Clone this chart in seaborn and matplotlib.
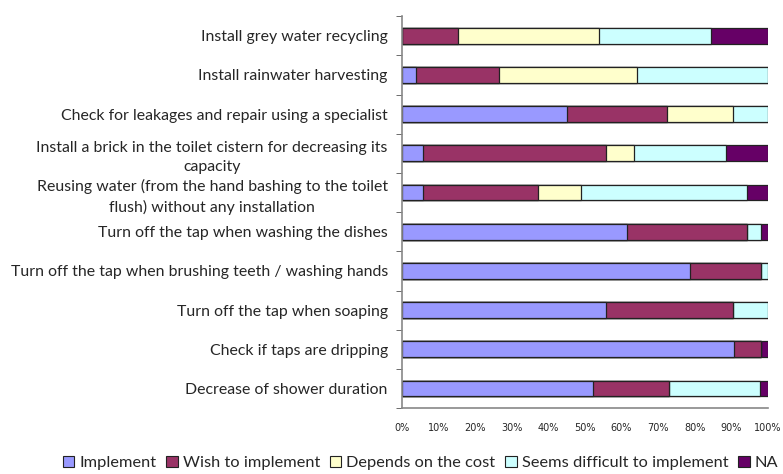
import numpy as np
import pandas as pd
import seaborn as sns
import matplotlib.pyplot as plt
from matplotlib.patches import Patch
from matplotlib.ticker import FixedLocator, PercentFormatter

actions = [
    "Install grey water recycling",
    "Install rainwater harvesting",
    "Check for leakages and repair using a specialist",
    "Install a brick in the toilet cistern for decreasing its\ncapacity",
    "Reusing water (from the hand bashing to the toilet\nflush) without any installation",
    "Turn off the tap when washing the dishes",
    "Turn off the tap when brushing teeth / washing hands",
    "Turn off the tap when soaping",
    "Check if taps are dripping",
    "Decrease of shower duration",
]
implement = [0.0, 3.8, 45.1, 5.7, 5.9, 61.5, 78.8, 55.8, 90.6, 52.1]
wish = [15.5, 22.7, 27.4, 50.1, 31.4, 32.8, 19.3, 34.7, 7.5, 20.9]
depends = [38.3, 37.6, 17.8, 7.7, 11.7, 0.0, 0.0, 0.0, 0.0, 0.0]
difficult = [30.7, 35.9, 9.7, 25.0, 45.2, 3.8, 1.9, 9.5, 0.0, 24.9]
na = [15.5, 0.0, 0.0, 11.5, 5.8, 1.9, 0.0, 0.0, 1.9, 2.1]

series = ["Implement", "Wish to implement", "Depends on the cost",
          "Seems difficult to implement", "NA"]
colors = ["#9999FF", "#993366", "#FFFFCC", "#CCFFFF", "#660066"]

df = pd.DataFrame({"action": actions, "Implement": implement,
                   "Wish to implement": wish, "Depends on the cost": depends,
                   "Seems difficult to implement": difficult, "NA": na})
cum = df[series].cumsum(axis=1)

sns.set_style("white")
plt.rcParams["font.family"] = ["Lato", "DejaVu Sans"]

fig = plt.figure(figsize=(7.83, 4.74), dpi=100)
ax = fig.add_axes([0.513, 0.139, 0.468, 0.827])

# draw cumulative totals from the last series back, so each layer covers the next
for name, col in reversed(list(zip(series, colors))):
    sns.barplot(x=cum[name], y=df["action"], color=col, orient="h",
                width=0.4, edgecolor="#222222", linewidth=0.9,
                saturation=1, ax=ax)

ax.set_xlim(0, 100)
ax.set_ylim(len(actions) - 0.5, -0.5)
ax.set_xlabel("")
ax.set_ylabel("")
ax.xaxis.set_major_locator(FixedLocator(np.arange(0, 101, 10)))
ax.xaxis.set_major_formatter(PercentFormatter(decimals=0))
ax.tick_params(axis="x", labelsize=7, length=3, color="#555555", pad=8)
for t in ax.get_xticklabels():
    t.set_family("DejaVu Sans")

ax.set_yticks(range(len(actions)))
ax.set_yticklabels(actions, fontsize=11.4, multialignment="center",
                   linespacing=1.45)
ax.tick_params(axis="y", which="major", length=0, pad=10)
ax.yaxis.set_minor_locator(FixedLocator(np.arange(-0.5, len(actions), 1)))
ax.tick_params(axis="y", which="minor", length=4, color="#555555", left=True)

sns.despine(ax=ax)
for s in ["left", "bottom"]:
    ax.spines[s].set_color("#888888")
    ax.spines[s].set_linewidth(1.2)

handles = [Patch(facecolor=c, edgecolor="#222222", linewidth=0.8) for c in colors]
fig.legend(handles, series, loc="center", bbox_to_anchor=(0.537, 0.023),
           ncol=5, frameon=False, fontsize=11.8, handlelength=0.7,
           handleheight=0.7, handletextpad=0.3, columnspacing=0.6)

fig.savefig("out.png", dpi=100)
